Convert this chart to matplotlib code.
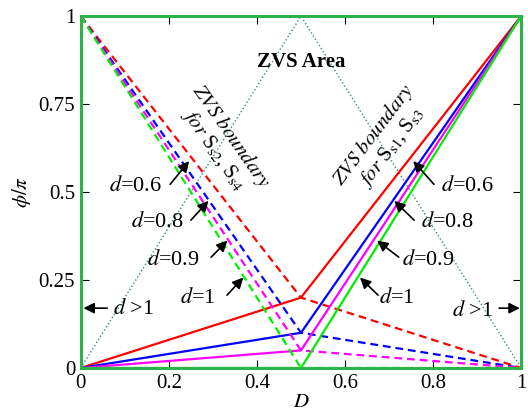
import matplotlib
matplotlib.use("Agg")
import matplotlib.pyplot as plt

plt.rcParams["font.family"] = ["Liberation Serif", "DejaVu Serif"]
plt.rcParams["mathtext.fontset"] = "stix"

# 數據: D 轉折點, 各 d 值在 D=0.5 處的 φ/π
D_pts = [0, 0.5, 1]
d_vals = [0.6, 0.8, 0.9, 1]
phi_mid = [0.2, 0.1, 0.05, 0.0]
colors = ["#FF0000", "#0000FF", "#FF00FF", "#00EE00"]

# d>1 的 ZVS 區域邊界
area_D = [0, 0.5, 1]
area_phi = [0, 1, 0]

x_ticks = [0, 0.2, 0.4, 0.6, 0.8, 1]
x_labels = ["0", "0.2", "0.4", "0.6", "0.8", "1"]
y_ticks = [0, 0.25, 0.5, 0.75, 1]
y_labels = ["0", "0.25", "0.5", "0.75", "1"]

# 標註: (文字, 文字位置, 箭頭起點, 箭頭終點)
left_notes = [
    ("0.6", (0.123, 0.517), (0.203, 0.522), (0.246, 0.588)),
    ("0.8", (0.173, 0.415), (0.250, 0.420), (0.290, 0.475)),
    ("0.9", (0.209, 0.307), (0.296, 0.315), (0.333, 0.362)),
    ("1", (0.266, 0.199), (0.332, 0.207), (0.369, 0.257)),
]
right_notes = [
    ("0.6", (0.878, 0.517), (0.802, 0.522), (0.755, 0.588)),
    ("0.8", (0.833, 0.415), (0.757, 0.420), (0.712, 0.475)),
    ("0.9", (0.789, 0.307), (0.722, 0.315), (0.673, 0.362)),
    ("1", (0.718, 0.199), (0.675, 0.207), (0.634, 0.257)),
]

fig = plt.figure(figsize=(5.28, 4.13), dpi=100)
ax = fig.add_axes([0.153, 0.109, 0.834, 0.852])

ax.plot(area_D, area_phi, linestyle=":", color="#3A8A8A", lw=1.0)

for d, m, c in zip(d_vals, phi_mid, colors):
    ax.plot(D_pts, [0, m, 1], color=c, lw=1.6)
    ax.plot(D_pts, [1, m, 0], color=c, lw=1.6, linestyle="--", dashes=(3.5, 2.2))

arrow = dict(arrowstyle="-|>", color="black", lw=1.2, mutation_scale=16,
             shrinkA=0, shrinkB=0)
for lab, txt, tail, tip in left_notes + right_notes:
    ax.annotate("", xy=tip, xytext=tail, arrowprops=arrow)
    ax.text(txt[0], txt[1], r"$d$=" + lab, fontsize=16, ha="center", va="center")

ax.annotate("", xy=(0.006, 0.17), xytext=(0.06, 0.17), arrowprops=arrow)
ax.text(0.12, 0.167, r"$d$ >1", fontsize=16, ha="center", va="center")
ax.annotate("", xy=(0.997, 0.17), xytext=(0.95, 0.17), arrowprops=arrow)
ax.text(0.889, 0.162, r"$d$ >1", fontsize=16, ha="center", va="center")

ax.text(0.5, 0.869, "ZVS Area", fontsize=15, fontweight="bold",
        ha="center", va="center")
ax.text(0.322, 0.64, "$\\it{ZVS\\ boundary}$\n$\\it{for}$ S$_{\\rm s2}$, S$_{\\rm s4}$",
        fontsize=15, rotation=-55, ha="center", va="center",
        rotation_mode="anchor", linespacing=1.0)
ax.text(0.685, 0.645, "$\\it{ZVS\\ boundary}$\n$\\it{for}$ S$_{\\rm s1}$, S$_{\\rm s3}$",
        fontsize=15, rotation=53, ha="center", va="center",
        rotation_mode="anchor", linespacing=1.0)

ax.set_xlim(0, 1)
ax.set_ylim(0, 1)
ax.set_xticks(x_ticks)
ax.set_xticklabels(x_labels)
ax.set_yticks(y_ticks)
ax.set_yticklabels(y_labels)
ax.tick_params(direction="in", top=True, right=True, length=6,
               labelsize=15, pad=4)
ax.set_xlabel("$D$", fontsize=15, labelpad=0)
ax.set_ylabel(r"$\phi/\pi$", fontsize=15, labelpad=4)

for sp in ax.spines.values():
    sp.set_color("#2DB34A")
    sp.set_linewidth(2.2)

fig.savefig("out.png", dpi=100)
